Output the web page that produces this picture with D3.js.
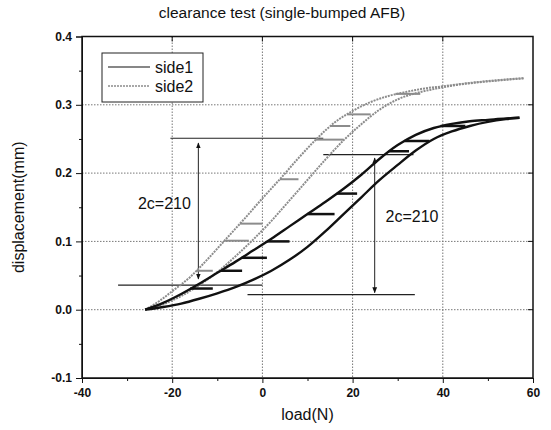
<!DOCTYPE html>
<html>
<head>
<meta charset="utf-8">
<script src="https://cdn.jsdelivr.net/npm/d3@7"></script>
<style>
  body { margin: 0; background: #fff; }
  text { font-family: "Liberation Sans", Arial, sans-serif; fill: #111; }
</style>
</head>
<body>
<div id="chart"></div>
<script>
// ---- data: [load (N), displacement (mm)] ----
const side1Upper = [[-26,0.0],[-22,0.01],[-18,0.023],[-14,0.038],[-10,0.054],[-6,0.07],[-2,0.087],[2,0.104],[6,0.122],[10,0.14],[14,0.158],[18,0.177],[22,0.198],[26,0.221],[30,0.241],[34,0.256],[38,0.266],[42,0.272],[46,0.276],[50,0.278],[54,0.28],[57,0.281]];
const side1Lower = [[-26,0.0],[-22,0.004],[-18,0.009],[-14,0.016],[-10,0.024],[-6,0.033],[-2,0.044],[2,0.057],[6,0.073],[10,0.092],[14,0.115],[18,0.14],[22,0.165],[26,0.19],[30,0.212],[34,0.233],[38,0.25],[42,0.261],[46,0.269],[50,0.275],[54,0.279],[57,0.281]];
const side2Upper = [[-26,0.0],[-23,0.012],[-20,0.027],[-16,0.048],[-12,0.075],[-8,0.104],[-4,0.133],[0,0.163],[4,0.192],[8,0.222],[12,0.25],[16,0.274],[20,0.291],[24,0.304],[28,0.313],[32,0.319],[36,0.324],[40,0.327],[46,0.332],[52,0.336],[58,0.339]];
const side2Lower = [[-26,0.0],[-22,0.008],[-18,0.02],[-14,0.036],[-10,0.055],[-6,0.078],[-2,0.103],[2,0.13],[6,0.16],[10,0.19],[14,0.22],[18,0.248],[22,0.272],[26,0.293],[30,0.308],[34,0.317],[38,0.323],[42,0.328],[48,0.333],[53,0.336],[58,0.339]];

// short horizontal "feather" strokes inside the loops: [load from, load to, displacement]
const side1Feathers = [[-16,-11,0.031],[-9.2,-4.5,0.057],[-4.6,1,0.076],[1,6,0.1],[10,16,0.14],[16.5,21,0.17],[28,32.5,0.232],[31.5,37,0.247],[39.5,45,0.269]];
const side2Feathers = [[-14.7,-11,0.057],[-8.4,-3,0.101],[-5,0,0.126],[3.9,8,0.191],[11.9,18,0.249],[15.2,19.5,0.269],[18.8,24,0.286],[29.5,35,0.316]];

// 2c annotation: horizontal reference lines [load from, load to, displacement]
const refLines = [[-20.4,13.5,0.251],[-32,0,0.036],[13.5,33.5,0.227],[-3.3,33.8,0.022]];
// double arrows [load, displacement top, displacement bottom]
const arrows = [[-14.2,0.244,0.045],[24.9,0.222,0.025]];
// labels [load, displacement, text]
const notes = [[-27.6,0.155,'2c=210'],[27.3,0.137,'2c=210']];

const xTicks = [-40,-20,0,20,40,60];
const yTicks = [-0.1,0.0,0.1,0.2,0.3,0.4];
const legendNames = ['side1','side2'];

// ---- layout ----
const width = 551, height = 430;
const margin = {left: 82, right: 18, top: 36.5, bottom: 52};
const innerW = width - margin.left - margin.right;
const innerH = height - margin.top - margin.bottom;

const svg = d3.select('#chart').append('svg')
    .attr('width', width)
    .attr('height', height);

const x = d3.scaleLinear().domain([-40, 60]).range([margin.left, margin.left + innerW]);
const y = d3.scaleLinear().domain([-0.1, 0.4]).range([margin.top + innerH, margin.top]);

const colors = {side1: '#111', side2: '#8c8c8c'};

// grid
const grid = svg.append('g').attr('stroke', '#777').attr('stroke-width', 1).attr('stroke-dasharray', '1.5,1.5');
grid.selectAll('line.gx').data(xTicks.slice(1, -1)).join('line')
    .attr('x1', d => x(d)).attr('x2', d => x(d))
    .attr('y1', y(0.4)).attr('y2', y(-0.1));
grid.selectAll('line.gy').data(yTicks.slice(1, -1)).join('line')
    .attr('y1', d => y(d)).attr('y2', d => y(d))
    .attr('x1', x(-40)).attr('x2', x(60));

// axes
const fmtY = d => d3.format('.1f')(d).replace('\u2212', '-');
const fmtX = d => String(d);

svg.append('g')
    .attr('transform', `translate(0,${y(-0.1)})`)
    .call(d3.axisBottom(x).tickValues(xTicks).tickFormat(fmtX).tickSize(5).tickPadding(5));
svg.append('g')
    .attr('transform', `translate(0,${y(-0.1)})`)
    .call(d3.axisBottom(x).tickValues(d3.range(-30, 60, 20)).tickFormat('').tickSize(3))
    .select('.domain').remove();
svg.append('g')
    .attr('transform', `translate(${x(-40)},0)`)
    .call(d3.axisLeft(y).tickValues(yTicks).tickFormat(fmtY).tickSize(6).tickPadding(4));
svg.append('g')
    .attr('transform', `translate(${x(-40)},0)`)
    .call(d3.axisLeft(y).tickValues(d3.range(-0.05, 0.4, 0.1)).tickFormat('').tickSize(3))
    .select('.domain').remove();

svg.selectAll('.tick text')
    .style('font-family', '"Liberation Sans", Arial, sans-serif')
    .style('font-size', '12px')
    .style('font-weight', 'bold')
    .attr('fill', '#111');
svg.selectAll('.domain, .tick line').attr('stroke', '#111');

// frame
svg.append('rect')
    .attr('x', x(-40)).attr('y', y(0.4))
    .attr('width', x(60) - x(-40)).attr('height', y(-0.1) - y(0.4))
    .attr('fill', 'none').attr('stroke', '#111').attr('stroke-width', 1.5);

// top / right inward ticks
svg.append('g').selectAll('line').data(xTicks.slice(1, -1)).join('line')
    .attr('x1', d => x(d)).attr('x2', d => x(d))
    .attr('y1', y(0.4)).attr('y2', y(0.4) + 5).attr('stroke', '#111');
svg.append('g').selectAll('line').data(yTicks.slice(1, -1)).join('line')
    .attr('y1', d => y(d)).attr('y2', d => y(d))
    .attr('x1', x(60)).attr('x2', x(60) - 5).attr('stroke', '#111');

// reference lines & arrows
svg.append('defs').append('marker')
    .attr('id', 'head').attr('viewBox', '0 0 10 10')
    .attr('refX', 9).attr('refY', 5)
    .attr('markerWidth', 6).attr('markerHeight', 6)
    .attr('orient', 'auto-start-reverse')
    .append('path').attr('d', 'M0,1 L10,5 L0,9 Z').attr('fill', '#111');

svg.append('g').selectAll('line').data(refLines).join('line')
    .attr('x1', d => x(d[0])).attr('x2', d => x(d[1]))
    .attr('y1', d => y(d[2])).attr('y2', d => y(d[2]))
    .attr('stroke', '#222').attr('stroke-width', 1.2);

svg.append('g').selectAll('line').data(arrows).join('line')
    .attr('x1', d => x(d[0])).attr('x2', d => x(d[0]))
    .attr('y1', d => y(d[1])).attr('y2', d => y(d[2]))
    .attr('stroke', '#222').attr('stroke-width', 1)
    .attr('marker-start', 'url(#head)').attr('marker-end', 'url(#head)');

// curves
const line = d3.line().x(d => x(d[0])).y(d => y(d[1])).curve(d3.curveMonotoneX);
const curves = svg.append('g').attr('fill', 'none');

[side2Upper, side2Lower].forEach(s => {
    curves.append('path').attr('d', line(s))
        .attr('stroke', colors.side2).attr('stroke-width', 2)
        .attr('stroke-dasharray', '2,1');
});
curves.selectAll('line.f2').data(side2Feathers).join('line')
    .attr('x1', d => x(d[0])).attr('x2', d => x(d[1]))
    .attr('y1', d => y(d[2])).attr('y2', d => y(d[2]))
    .attr('stroke', colors.side2).attr('stroke-width', 2);

[side1Upper, side1Lower].forEach(s => {
    curves.append('path').attr('d', line(s))
        .attr('stroke', colors.side1).attr('stroke-width', 2.4);
});
curves.selectAll('line.f1').data(side1Feathers).join('line')
    .attr('x1', d => x(d[0])).attr('x2', d => x(d[1]))
    .attr('y1', d => y(d[2])).attr('y2', d => y(d[2]))
    .attr('stroke', colors.side1).attr('stroke-width', 2.5);

// notes
svg.append('g').selectAll('text').data(notes).join('text')
    .attr('x', d => x(d[0])).attr('y', d => y(d[1]))
    .attr('dy', '0.35em')
    .style('font-size', '16px')
    .text(d => d[2]);

// legend
const legend = svg.append('g').attr('transform', 'translate(102,53)');
legend.append('rect')
    .attr('width', 101).attr('height', 49)
    .attr('fill', '#fff').attr('stroke', '#222').attr('stroke-width', 1);
const items = legend.selectAll('g.item').data(legendNames).join('g')
    .attr('transform', (d, i) => `translate(0,${14 + i * 19})`);
items.append('line')
    .attr('x1', 6).attr('x2', 48)
    .attr('stroke', d => colors[d])
    .attr('stroke-width', d => d === 'side1' ? 1.2 : 1.5)
    .attr('stroke-dasharray', d => d === 'side1' ? null : '2,1');
items.append('text')
    .attr('x', 53).attr('dy', '0.35em')
    .style('font-size', '16px')
    .text(d => d);

// titles
svg.append('text')
    .attr('x', 282).attr('y', 13).attr('dy', '0.35em')
    .attr('text-anchor', 'middle')
    .style('font-size', '15.5px')
    .text('clearance test (single-bumped AFB)');
svg.append('text')
    .attr('x', (x(-40) + x(60)) / 2).attr('y', 414).attr('dy', '0.35em')
    .attr('text-anchor', 'middle')
    .style('font-size', '16px')
    .text('load(N)');
svg.append('text')
    .attr('transform', `translate(18,${(y(-0.1) + y(0.4)) / 2}) rotate(-90)`)
    .attr('dy', '0.35em')
    .attr('text-anchor', 'middle')
    .style('font-size', '16px')
    .text('displacement(mm)');
</script>
</body>
</html>
